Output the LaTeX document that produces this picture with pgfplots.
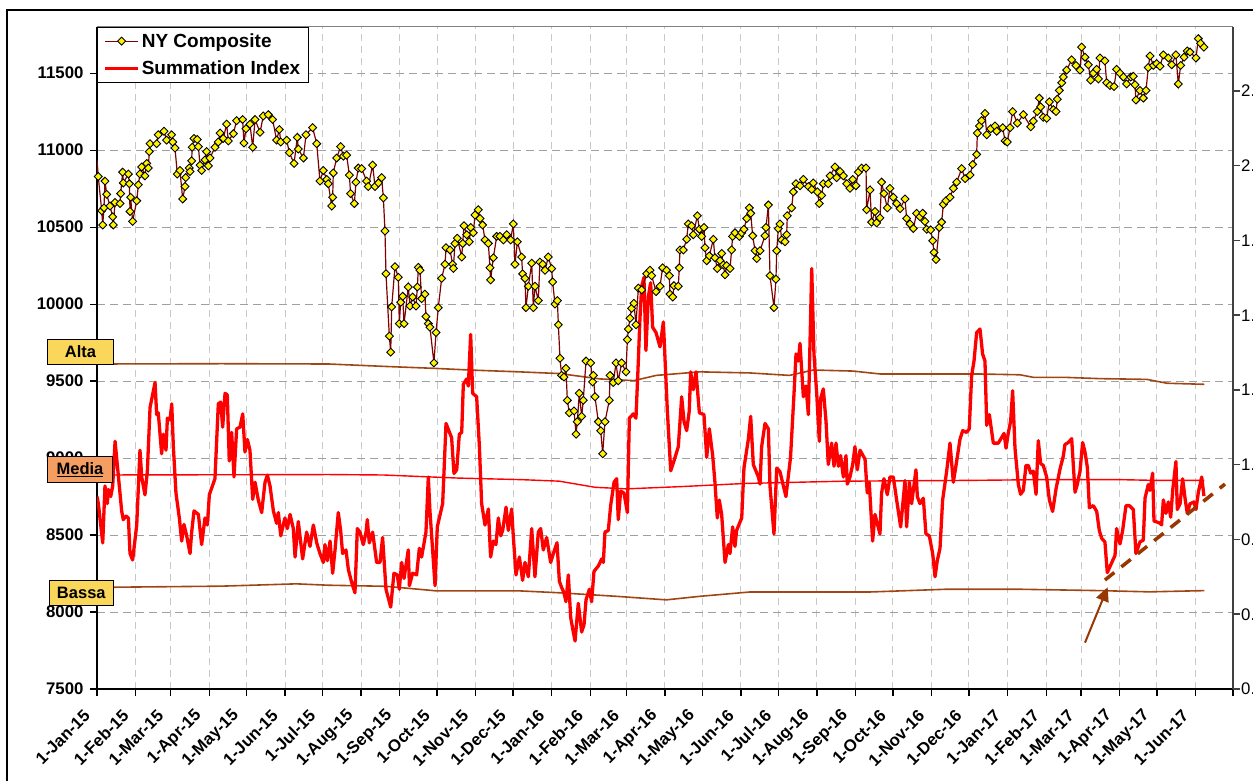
\documentclass[border=0pt]{standalone}
\usepackage{fontspec}
\setmainfont{Liberation Sans}
\usepackage{pgfplots}
\pgfplotsset{compat=1.18}
\usetikzlibrary{arrows.meta}
\definecolor{nyline}{RGB}{128,0,0}
\definecolor{lvl}{RGB}{160,70,20}
\definecolor{brownd}{RGB}{153,55,0}
\definecolor{gridh}{RGB}{160,160,160}
\definecolor{gridv}{RGB}{200,200,200}
\definecolor{boxy}{RGB}{250,214,90}
\definecolor{boxo}{RGB}{244,158,98}
\definecolor{spine}{RGB}{64,64,64}
\begin{document}
\begin{tikzpicture}[x=1pt,y=1pt]
\useasboundingbox (0,0) rectangle (1253,781);
\draw[black, line width=1.5pt] (7,0) -- (7,771) -- (1253,771);
\begin{axis}[
  at={(97pt,92pt)}, anchor=south west, scale only axis,
  width=1136pt, height=662pt,
  xmin=0, xmax=912, ymin=7500, ymax=11800,
  scaled y ticks=false, scaled x ticks=false,
  axis x line*=bottom, axis y line*=left,
  axis line style={-, black, line width=1.2pt},
  xtick={0,31,59,90,120,151,181,212,243,273,304,334,365,396,425,456,486,517,547,578,609,639,670,700,731,762,790,821,851,882,912},
  xticklabels={1-Jan-15,1-Feb-15,1-Mar-15,1-Apr-15,1-May-15,1-Jun-15,1-Jul-15,1-Aug-15,1-Sep-15,1-Oct-15,1-Nov-15,1-Dec-15,1-Jan-16,1-Feb-16,1-Mar-16,1-Apr-16,1-May-16,1-Jun-16,1-Jul-16,1-Aug-16,1-Sep-16,1-Oct-16,1-Nov-16,1-Dec-16,1-Jan-17,1-Feb-17,1-Mar-17,1-Apr-17,1-May-17,1-Jun-17,{}},
  ytick={7500,8000,8500,9000,9500,10000,10500,11000,11500},
  /pgf/number format/assume math mode=true,
  /pgf/number format/1000 sep={},
  tick align=outside, major tick length=7pt,
  tick style={black, line width=1.2pt},
  ticklabel style={font=\bfseries\fontsize{16.8}{19}\selectfont},
  yticklabel style={xshift=-3pt},
  xticklabel style={xshift=-10pt, yshift=-17pt, rotate=45, anchor=east, inner sep=0pt},
  xmajorgrids, ymajorgrids,
  x grid style={gridv, dash pattern=on 7pt off 5pt, line width=1pt},
  y grid style={gridh, dash pattern=on 8pt off 5pt, line width=1pt},
  legend style={at={(0,1)}, anchor=north west, draw=black, line width=1pt, fill=white,
    font=\bfseries\fontsize{19}{21}\selectfont, inner xsep=6pt, inner ysep=4pt, row sep=8pt},
  legend cell align=left,
  reverse legend,
  legend image code/.code={\draw[mark repeat=2,mark phase=2,#1] plot coordinates {(0pt,0pt) (16.5pt,0pt) (33pt,0pt)};},
]
% Alta
\addplot[lvl, line width=1.6pt, forget plot] coordinates {(0,9611)(100,9613)(186,9611)(232,9595)(270,9583)(299,9572)(339,9560)(371,9549)(404,9514)(431,9503)(449,9537)(484,9560)(524,9553)(556,9537)(575,9572)(607,9565)(629,9546)(709,9546)(741,9541)(752,9524)(778,9524)(805,9516)(843,9511)(859,9486)(889,9479)};
% Media
\addplot[red, line width=1.4pt, forget plot] coordinates {(0,8890)(186,8893)(230,8890)(290,8870)(340,8860)(371,8850)(400,8810)(425,8800)(470,8815)(520,8835)(600,8850)(700,8855)(760,8860)(820,8860)(850,8855)(889,8855)};
% Bassa
\addplot[lvl, line width=1.6pt, forget plot] coordinates {(0,8160)(100,8168)(160,8183)(186,8174)(232,8167)(273,8137)(340,8137)(371,8125)(417,8102)(457,8079)(484,8102)(524,8130)(620,8130)(682,8148)(740,8148)(805,8139)(845,8131)(889,8139)};
% Summation Index
\addplot[red, line width=3.3pt, line join=round] coordinates {
(0,8750)(1.1,8704)(4.6,8449)(6.4,8819)(8.3,8704)(9.1,8796)(11.0,8750)(12.6,8819)(14.5,9109)(17.1,8889)(19.8,8657)(21.1,8600)(23.3,8623)(25.2,8611)(26.5,8380)(28.6,8338)(31.9,8565)(34.5,9051)(35.9,8877)(38.5,8761)(40.4,8912)(42.6,9329)(46.6,9491)(47.9,9282)(49.2,9294)(51.9,9028)(53.3,9155)(55.4,9051)(56.5,9259)(58.6,9248)(60.0,9352)(61.3,9074)(63.4,8773)(66.1,8611)(68.0,8461)(69.8,8569)(72.0,8495)(74.7,8380)(76.0,8519)(77.9,8657)(81.4,8634)(84.0,8438)(86.7,8611)(88.6,8565)(90.2,8762)(94.7,8866)(97.4,9352)(99.3,9364)(100.9,9201)(102.8,9421)(104.6,9410)(106.2,8981)(108.1,9167)(110.0,8877)(112.1,9190)(114.8,9201)(117.0,9287)(118.8,9039)(120.7,9121)(122.8,9051)(125.0,8732)(126.9,8843)(129.5,8727)(132.2,8646)(134.9,8843)(136.8,8889)(138.9,8819)(141.6,8657)(144.2,8576)(145.6,8646)(147.5,8495)(150.9,8611)(152.8,8542)(155.0,8634)(157.6,8542)(159.0,8357)(161.6,8588)(165.1,8345)(168.3,8519)(171.0,8426)(173.7,8565)(176.4,8449)
(179.0,8380)(181.7,8322)(183.0,8438)(184.9,8333)(187.1,8461)(189.2,8252)(191.1,8403)(193.7,8646)(195.6,8530)(197.2,8380)(199.9,8403)(201.8,8276)(204.4,8194)(207.1,8125)(209.0,8542)(211.1,8519)(213.8,8438)(216.0,8519)(217.0,8600)(218.6,8449)(221.3,8519)(224.5,8322)(227.2,8322)(229.3,8484)(232.0,8148)(235.8,8032)(238.4,8252)(241.1,8241)(242.7,8148)(244.6,8322)(246.5,8218)(249.9,8403)(250.8,8171)(253.4,8252)(256.6,8241)(258.8,8414)(260.6,8357)(264.1,8519)(266.0,8877)(267.3,8657)(271.4,8171)(273.2,8553)(277.5,8704)(278.6,8912)(280.2,9225)(284.7,9132)(286.6,8900)(288.8,8924)(290.9,9155)(292.8,9167)(294.1,9479)(296.8,9514)(298.1,9468)(300.0,9803)(301.6,9421)(304.8,9398)(307.0,9074)(308.8,8704)(311.5,8565)(314.2,8669)(316.0,8357)(318.2,8461)(320.3,8438)(322.2,8611)(324.1,8495)(325.7,8530)(328.4,8681)(330.2,8530)(332.9,8669)(334.2,8495)(336.4,8241)(339.1,8357)(341.7,8206)(343.6,8322)(346.3,8229)(349.0,8542)(351.6,8229)(354.3,8519)(356.2,8542)(358.3,8403)(361.0,8484)(364.2,8322)
(366.4,8380)(369.3,8450)(371.2,8200)(373.0,8160)(374.9,8125)(376.5,8067)(378.4,8241)(380.3,7963)(382.4,7870)(383.8,7812)(386.4,8056)(389.1,7870)(391.0,7917)(392.6,8079)(395.3,8148)(397.1,8067)(399.0,8264)(402.5,8299)(405.2,8345)(406.5,8322)(407.8,8519)(410.5,8530)(412.4,8692)(415.1,8843)(417.2,8866)(418.5,8600)(420.4,8785)(423.1,8773)(425.8,8646)(427.4,9259)(430.6,9287)(432.7,9259)(434.6,9630)(435.9,9907)(437.3,10116)(439.1,10174)(440.7,9699)(442.6,10046)(444.5,10139)(446.1,9849)(448.8,9815)(452.0,9722)(454.7,9884)(457.9,9306)(460.6,8917)(463.2,8981)(466.7,9074)(469.4,9398)(471.3,9236)(473.4,9178)(475.5,9306)(476.6,9560)(478.7,9444)(480.9,9560)(483.6,9294)(487.3,9282)(489.5,9005)(491.6,9190)(494.3,9016)(496.1,8843)(498.0,8611)(499.6,8727)(501.5,8634)(504.2,8322)(506.9,8438)(508.2,8380)(510.3,8553)(512.2,8426)(513.5,8530)(517.6,8611)(519.4,8935)(522.9,9121)(524.8,9271)(526.9,8958)(531.0,8877)(532.3,8831)(533.6,9074)(536.3,9225)(539.0,9190)(540.3,8819)(543.5,8507)(545.7,8935)(548.3,8912)(553.1,8750)(556.8,9005)
(559.6,9421)(561.2,9676)(563.0,9630)(564.4,9745)(567.1,9398)(569.2,9468)(571.1,9282)(573.8,10231)(575.6,9676)(577.8,9421)(579.9,9109)(581.0,9387)(583.1,9449)(585.3,9236)(587.1,8958)(589.8,9097)(591.7,8947)(593.3,9097)(595.2,8947)(597.0,9016)(599.2,8877)(601.3,9016)(602.4,8831)(604.5,8877)(606.7,8958)(608.5,9074)(610.4,8924)(612.6,9051)(616.6,8993)(618.4,8773)(620.0,8843)(622.7,8461)(624.6,8634)(628.6,8507)(629.9,8773)(631.8,8866)(634.5,8762)(636.6,8877)(639.3,8877)(642.0,8727)(645.2,8553)(648.7,8854)(650.0,8553)(652.2,8843)(654.0,8704)(657.5,8924)(658.6,8750)(660.7,8704)(663.4,8739)(665.5,8507)(668.2,8495)(670.9,8380)(672.8,8229)(674.6,8333)(676.8,8414)(678.9,8727)(682.1,8912)(684.8,9097)(687.5,8843)(690.2,8981)(692.8,9121)(695.0,9178)(698.2,9167)(700.3,9190)(702.2,9537)(704.1,9630)(706.2,9815)(708.9,9838)(711.0,9676)(712.9,9630)(714.3,9213)(716.4,9282)(719.6,9097)(723.6,9097)
(728.2,9160)(729.8,9064)(731.6,9163)(733.5,9238)(735.1,9437)(737.0,9064)(739.7,8828)(741.5,8765)(743.7,8790)(745.8,8952)(747.7,8952)(749.6,8902)(751.7,8915)(753.9,8765)(755.7,9113)(757.6,8964)(759.7,8952)(762.4,8877)(764.6,8728)(767.2,8653)(770.0,8802)(773.1,8927)(775.8,9014)(777.1,9088)(779.8,9101)(782.5,9126)(785.2,8778)(787.0,8828)(789.2,8915)(791.3,9101)(793.2,9039)(795.1,8939)(796.7,8678)(799.9,8691)(802.6,8653)(804.7,8529)(806.6,8479)(809.2,8455)(811.1,8256)(813.8,8305)(817.3,8368)(818.6,8542)(821.3,8442)(823.4,8529)(826.1,8691)(828.8,8691)(832.0,8666)(834.1,8380)(837.3,8455)(840.0,8467)(841.4,8740)(844.0,8828)(845.4,8790)(847.5,8902)(848.6,8591)(852.9,8579)(854.7,8566)(856.1,8728)(858.2,8641)(860.1,8715)(862.0,8616)(863.6,8790)(866.2,8977)(867.3,8666)(869.5,8703)(871.6,8865)(873.5,8740)(875.3,8641)(877.5,8703)(880.7,8715)(882.3,8666)(884.2,8778)(886.9,8877)(888.7,8753)};
\addlegendentry{Summation Index}
% NY Composite first segment without marker
\addplot[nyline, line width=1.2pt, forget plot] coordinates {(0,10935)(1,10829)};
\addplot[nyline, line width=1.2pt, mark=square*, mark size=2.8pt, mark options={rotate=45, fill=yellow, draw=black, line width=0.9pt, solid}] coordinates {
(1,10829)(3.8,10606)(4.6,10514)(5.6,10625)(6.4,10799)(7.8,10713)(10.4,10637)(12.6,10567)(13.1,10514)(14.5,10660)(18.5,10653)(19.0,10718)(20.6,10857)(21.1,10787)(25.2,10845)(26.0,10782)(26.5,10602)(27.0,10694)(28.6,10537)(31.9,10671)(33.2,10775)(34.5,10845)(35.9,10891)(38.5,10833)(39.9,10914)(41.2,10884)(42.0,10991)(42.6,11042)(47.9,11042)(49.2,11100)(53.8,11123)(55.9,11065)(59.9,11100)(60.8,11053)(62.6,11014)(64.5,10845)(66.6,10868)(68.8,10683)(70.7,10764)(71.2,10822)(74.1,10884)(74.7,10861)(76.0,10931)(76.4,11019)(77.9,11076)(80.5,11069)(81.4,11023)(82.7,10903)(84.0,10868)(86.7,10937)(88.0,10991)(89.4,10898)(90.7,10949)(94.7,11019)(97.4,11053)(98.8,11111)(101.4,11076)(104.1,11169)(105.4,11060)(109.5,11107)(112.1,11192)(116.9,11199)(118.0,11046)(119.6,11139)(122.8,11169)(125.0,11019)(126.9,11199)(130.9,11116)(133.5,11222)(137.5,11231)(141.0,11199)(144.2,11065)(146.4,11134)(147.5,11053)(152.3,11065)(154.4,10984)(158.2,10914)(160.8,11083)(161.6,11007)(165.7,10949)(167.8,11100)(173.1,11146)(176.4,11042)(179.0,10799)(181.7,10868)(184.4,10810)(185.7,10782)
(188.4,10637)(189.2,10694)(189.7,10852)(192.4,10949)(195.6,11023)(197.8,10961)(200.4,10968)(202.6,10838)(203.6,10718)(206.6,10653)(207.9,10792)(209.8,10884)(212.5,10880)(216.5,10799)(217.8,10764)(221.3,10903)(223.2,10764)(225.9,10787)(228.5,10822)(229.9,10690)(231.2,10475)(232.0,10197)(234.7,9792)(235.8,9688)(236.6,9982)(239.2,10243)(241.9,10174)(242.7,9873)(243.8,10012)(245.4,10051)(246.5,9873)(249.9,10111)(251.3,9988)(253.4,10046)(256.1,9988)(257.2,10111)(258.0,10239)(259.3,10220)(260.6,10035)(263.3,10065)(264.1,9919)(266.0,9873)(267.3,9850)(270.5,9618)(272.2,9815)(274.0,9977)(276.7,10167)(279.4,10259)(280.2,10366)(283.4,10352)(285.5,10259)(286.1,10232)(287.4,10394)(289.3,10428)(292.8,10306)(293.6,10394)(294.6,10509)(296.8,10451)(298.9,10405)(300.0,10498)(302.1,10463)(303.5,10579)(306.1,10613)(307.5,10556)(309.6,10514)(311.5,10417)(314.2,10394)(315.5,10236)(316.0,10157)(318.2,10301)(320.9,10440)(323.5,10440)(326.2,10417)(328.9,10451)(332.1,10417)(334.2,10521)(335.6,10259)(337.5,10405)(340.9,10306)(341.7,10197)(343.6,10167)(344.4,9977)(346.3,10116)(349.0,10266)(350.3,9977)(351.6,10116)(354.3,10023)(355.6,10273)(357.8,10259)(359.7,10220)(362.3,10306)
(365.0,10231)(365.8,10144)(367.7,10000)(369.6,10023)(370.4,9866)(371.7,9648)(373.0,9537)(374.9,9526)(376.5,9583)(377.6,9375)(379.2,9294)(383.0,9306)(384.6,9155)(385.6,9236)(387.2,9421)(389.1,9271)(390.4,9375)(392.6,9630)(396.3,9618)(397.9,9495)(398.5,9537)(399.8,9398)(402.5,9236)(404.4,9178)(406.0,9028)(407.8,9236)(411.3,9375)(411.9,9537)(414.5,9491)(416.7,9618)(418.5,9502)(421.2,9618)(424.7,9560)(425.8,9769)(426.6,9838)(427.9,9908)(429.2,9972)(431.1,10005)(432.7,9866)(434.6,10104)(437.3,10093)(441.3,10197)(444.0,10220)(445.3,10185)(448.8,10081)(452.0,10116)(454.1,10236)(457.3,10220)(459.5,10185)(460.0,10065)(462.2,10046)(463.2,10120)(466.7,10116)(467.5,10236)(468.0,10352)(470.7,10352)(473.4,10421)(474.7,10521)(477.4,10509)(478.7,10451)(482.0,10574)(483.6,10486)(485.4,10440)(487.3,10498)(488.1,10366)(489.5,10282)(491.6,10313)(494.8,10421)(496.1,10301)(498.0,10231)(500.2,10282)(501.5,10329)(502.8,10255)(504.2,10190)(505.5,10250)(508.2,10231)(509.5,10352)(510.3,10440)(512.2,10463)(515.7,10440)(517.6,10463)(519.4,10486)(521.6,10556)(523.7,10625)(524.8,10590)(526.4,10444)(528.3,10347)(529.6,10296)(532.3,10347)(536.3,10444)(537.1,10498)(539.0,10644)(540.3,10185)(543.5,9977)(545.1,10162)(545.7,10347)(547.0,10491)(548.3,10521)
(549.7,10417)(552.3,10405)(553.7,10451)(554.2,10574)(557.7,10625)(559.0,10729)(561.2,10782)(564.4,10769)(567.1,10810)(571.1,10764)(573.8,10745)(575.1,10787)(578.3,10729)(579.9,10653)(581.8,10706)(583.1,10782)(587.1,10782)(588.5,10833)(592.5,10891)(593.8,10822)(596.5,10861)(599.2,10833)(601.9,10782)(604.5,10752)(606.7,10810)(609.3,10769)(611.2,10857)(613.9,10884)(617.4,10884)(617.9,10613)(620.6,10741)(621.9,10532)(624.6,10602)(625.9,10528)(628.6,10560)(629.9,10792)(631.8,10718)(634.5,10625)(636.6,10752)(639.3,10694)(642.0,10653)(644.7,10620)(648.7,10683)(650.0,10556)(652.7,10521)(655.4,10491)(658.0,10590)(660.7,10567)(662.9,10590)(664.7,10537)(666.1,10486)(669.3,10482)(670.9,10412)(672.0,10336)(673.6,10289)(676.2,10498)(678.1,10532)(679.5,10648)(681.6,10671)(684.8,10694)(687.5,10752)(690.2,10792)(694.2,10880)(696.9,10815)(700.9,10838)(703.0,10907)(706.2,10972)(706.8,11111)(708.4,11157)(710.2,11192)(712.9,11238)(714.3,11100)(717.5,11139)(720.9,11157)(722.3,11123)(727.1,11146)(729.0,11060)(730.8,11053)(733.0,11146)(735.1,11250)(738.9,11176)
(743.7,11231)(749.6,11152)(751.7,11189)(754.9,11251)(756.5,11338)(757.6,11281)(759.7,11214)(762.4,11207)(764.6,11314)(767.8,11264)(769.9,11251)(771.0,11331)(772.6,11388)(774.5,11438)(775.8,11475)(778.5,11520)(782.5,11587)(786.0,11550)(789.2,11520)(790.5,11669)(793.2,11604)(795.9,11555)(797.7,11455)(799.9,11500)(802.6,11525)(803.9,11463)(805.2,11599)(809.2,11580)(810.6,11438)(813.3,11420)(816.5,11413)(818.6,11525)(821.3,11500)(824.0,11475)(826.6,11430)(829.9,11475)(832.0,11480)(833.3,11425)(834.1,11326)(837.3,11388)(840.0,11338)(842.2,11388)(844.0,11537)(845.4,11612)(848.1,11550)(850.7,11562)(853.4,11545)(856.1,11619)(860.1,11599)(862.8,11555)(866.2,11619)(868.1,11430)(870.0,11550)(872.7,11604)(875.3,11644)(877.5,11637)(882.3,11599)(884.2,11724)(886.0,11694)(888.7,11669)};
\addlegendentry{NY Composite}
% trend line and arrow
\draw[brownd, line width=3.5pt, dash pattern=on 12pt off 9pt] (axis cs:809.2,8208) -- (axis cs:905.6,8831);
\draw[brownd, line width=2pt, -{Triangle[length=14pt,width=13pt]}] (axis cs:793.2,7801) -- (axis cs:811.4,8161);
\end{axis}
\begin{axis}[
  at={(97pt,92pt)}, anchor=south west, scale only axis,
  width=1136pt, height=662pt,
  xmin=0, xmax=912, ymin=0, ymax=8.856,
  axis x line=none, axis y line*=right,
  axis line style={-, spine, line width=2.5pt},
  ytick={0,1,2,3,4,5,6,7,8},
  yticklabels={0.,0.,0.,1.,1.,1.,1.,2.,2.},
  tick align=outside, major tick length=7pt,
  tick style={spine, line width=1.5pt},
  yticklabel style={font=\fontsize{16.8}{19}\selectfont, anchor=west, inner xsep=1pt},
]
\draw[gray, line width=1pt] (rel axis cs:0,1) -- (rel axis cs:1,1);
\end{axis}
\node[draw=black, line width=1pt, fill=boxy, minimum width=65.6pt, minimum height=25pt, inner sep=0pt, font=\bfseries\fontsize{16.5}{18}\selectfont] at (80.5,429.2) {Alta};
\node[draw=black, line width=1pt, fill=boxo, minimum width=64.6pt, minimum height=25.6pt, inner sep=0pt, font=\bfseries\fontsize{16.5}{18}\selectfont] at (80,311.5) {\underline{Media}};
\node[draw=black, line width=1pt, fill=boxy, minimum width=64pt, minimum height=25pt, inner sep=0pt, font=\bfseries\fontsize{16.5}{18}\selectfont] at (81.3,187.8) {Bassa};
\end{tikzpicture}
\end{document}
